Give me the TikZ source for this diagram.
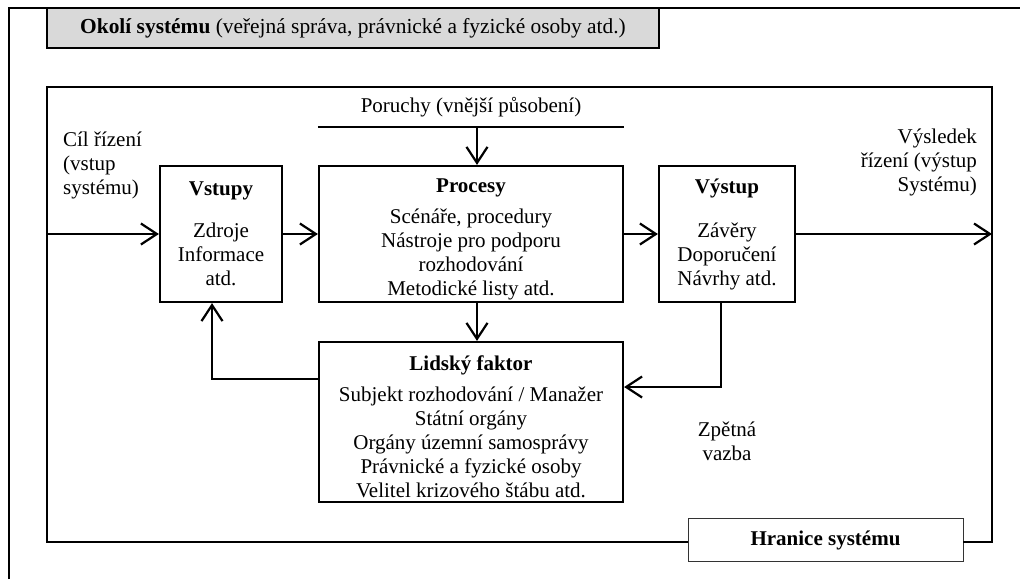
\documentclass[tikz,border=0pt]{standalone}
\usepackage{fontspec}
\setmainfont{Liberation Serif}
\usetikzlibrary{arrows.meta,positioning,calc}
\tikzset{every picture/.style={line width=2.2pt}}
\tikzset{
  blok/.style={draw, align=center, inner sep=0pt},
  popis/.style={inner sep=0pt},
  sipka/.style={-{Straight Barb[length=16pt,width=21pt]}},
}

\begin{document}
\begin{tikzpicture}[x=1pt,y=-1pt,font=\fontsize{21}{24}\selectfont]
    \useasboundingbox (0,0) rectangle (1020,579);
    % okolí systému
    \draw (9,579) -- (9,8) -- (1020,8);
    \node[blok, fill=gray!30, minimum width=612pt, minimum height=40pt, font=\fontsize{21.4}{24}\selectfont] (okoli) at (353,28)
        {\textbf{Okolí systému} (veřejná správa, právnické a fyzické osoby atd.)};
    % bloky systému
    \node[blok, minimum width=122pt, minimum height=136pt] (vstupy) at (221,234)
        {\textbf{Vstupy}\\[18pt]Zdroje\\Informace\\atd.};
    \node[blok, minimum width=304pt, minimum height=136pt] (procesy) at (471,234)
        {\textbf{Procesy}\rule{0pt}{24pt}\\[7pt]Scénáře, procedury\\Nástroje pro podporu\\rozhodování\\Metodické listy atd.};
    \node[blok, minimum width=136pt, minimum height=136pt] (vystup) at (727,234)
        {\textbf{Výstup}\\[20pt]Závěry\\Doporučení\\Návrhy atd.};
    \node[blok, minimum width=304pt, minimum height=160pt] (lidsky) at (471,422)
        {\textbf{Lidský faktor}\rule{0pt}{24pt}\\[7pt]Subjekt rozhodování / Manažer\\Státní orgány\\Orgány územní samosprávy\\Právnické a fyzické osoby\\Velitel krizového štábu atd.};
    % poruchy
    \node (poruchy) at (471,107) {Poruchy (vnější působení)};
    \coordinate (porucha) at (477,127);
    \draw (procesy.west |- porucha) -- (procesy.east |- porucha);
    \draw[sipka] (porucha) -- (procesy.north -| porucha);
    % hranice systému
    \node[blok, line width=0.9pt, draw=black!80, minimum width=275pt, minimum height=43pt] (hranice) at (825.5,540)
        {\textbf{Hranice systému}};
    \coordinate (rohLH) at (47,87);
    \coordinate (rohPD) at (992,542);
    \draw (hranice.west |- rohPD) -| (rohLH) -| (rohPD) -- (hranice.east |- rohPD);
    % vstup a výstup systému
    \node[popis, anchor=north west, align=left] (cil) at (62,131) {Cíl řízení\\(vstup\\systému)};
    \node[popis, anchor=north east, align=right] (vysledek) at (978,128) {Výsledek\\řízení (výstup\\Systému)};
    \draw[sipka] (rohLH |- vstupy.west) -- (vstupy.west);
    \draw[sipka] (vstupy.east) -- (procesy.west);
    \draw[sipka] (procesy.east) -- (vystup.west);
    \draw[sipka] (vystup.east) -- (rohPD |- vystup.east);
    \draw[sipka] (procesy.south -| porucha) -- (lidsky.north -| porucha);
    % zpětná vazba
    \coordinate (zv1) at (721,387);
    \coordinate (zv2) at (212,379);
    \draw[sipka] (vystup.south -| zv1) |- (lidsky.east |- zv1);
    \draw[sipka] (lidsky.west |- zv2) -| (vstupy.south -| zv2);
    \node[align=center] (zpetna) at (727,441) {Zpětná\\vazba};
\end{tikzpicture}
\end{document}
